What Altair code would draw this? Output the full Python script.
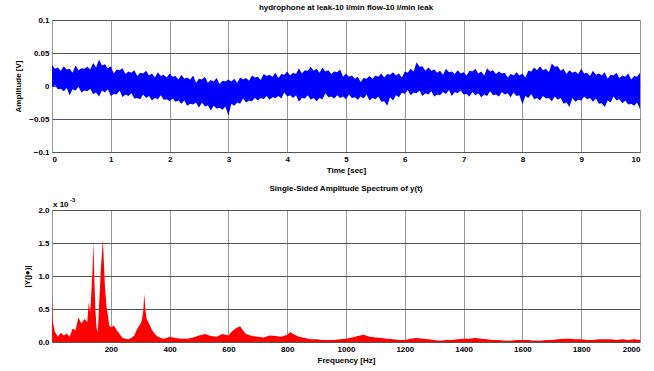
import altair as alt
import pandas as pd

# ---- top panel: time signal envelope (V) ----
# values at whole 0.1 s steps
upper_v = [
    0.032, 0.028, 0.030, 0.026, 0.031, 0.027, 0.029, 0.035, 0.040, 0.033,
    0.030, 0.025, 0.027, 0.022, 0.024, 0.020, 0.023, 0.019, 0.021, 0.017,
    0.019, 0.015, 0.017, 0.013, 0.016, 0.011, 0.014, 0.009, 0.012, 0.008,
    0.010, 0.011, 0.013, 0.012, 0.016, 0.014, 0.018, 0.017, 0.020, 0.018,
    0.022, 0.020, 0.027, 0.024, 0.029, 0.026, 0.028, 0.024, 0.022, 0.025,
    0.019, 0.016, 0.014, 0.012, 0.015, 0.016, 0.019, 0.018, 0.021, 0.019,
    0.022, 0.026, 0.036, 0.030, 0.028, 0.025, 0.023, 0.026, 0.022, 0.024,
    0.021, 0.023, 0.026, 0.022, 0.027, 0.024, 0.022, 0.020, 0.018, 0.021,
    0.019, 0.023, 0.028, 0.030, 0.026, 0.034, 0.030, 0.026, 0.024, 0.022,
    0.026, 0.020, 0.023, 0.019, 0.021, 0.017, 0.020, 0.016, 0.019, 0.015,
    0.020,
]
lower_v = [
    -0.002, -0.005, -0.008, -0.014, -0.007, -0.010, -0.008, -0.012, -0.016, -0.010,
    -0.015, -0.013, -0.017, -0.015, -0.019, -0.020, -0.018, -0.022, -0.020, -0.021,
    -0.023, -0.024, -0.027, -0.030, -0.028, -0.033, -0.031, -0.037, -0.034, -0.036,
    -0.045, -0.030, -0.027, -0.025, -0.023, -0.022, -0.020, -0.021, -0.018, -0.019,
    -0.016, -0.018, -0.024, -0.019, -0.021, -0.023, -0.020, -0.017, -0.019, -0.018,
    -0.020, -0.018, -0.021, -0.019, -0.022, -0.020, -0.024, -0.030, -0.022, -0.017,
    -0.012, -0.014, -0.011, -0.015, -0.013, -0.016, -0.014, -0.012, -0.015, -0.011,
    -0.013, -0.016, -0.014, -0.017, -0.015, -0.014, -0.016, -0.013, -0.017, -0.015,
    -0.028, -0.018, -0.020, -0.022, -0.019, -0.023, -0.021, -0.027, -0.032, -0.024,
    -0.022, -0.020, -0.024, -0.027, -0.032, -0.025, -0.022, -0.026, -0.028, -0.030,
    -0.035,
]
# values at the half steps (0.05, 0.15, ... s): the notches between spikes
upper_half_v = [
    0.026, 0.023, 0.025, 0.020, 0.024, 0.026, 0.025, 0.028, 0.031, 0.027,
    0.019, 0.024, 0.018, 0.020, 0.015, 0.019, 0.016, 0.013, 0.015, 0.013,
    0.014, 0.010, 0.011, 0.010, 0.005, 0.010, 0.005, 0.007, 0.003, 0.007,
    0.007, 0.005, 0.010, 0.008, 0.013, 0.009, 0.015, 0.014, 0.012, 0.017,
    0.016, 0.018, 0.019, 0.023, 0.023, 0.020, 0.022, 0.018, 0.021, 0.014,
    0.014, 0.011, 0.006, 0.011, 0.011, 0.014, 0.013, 0.017, 0.016, 0.013,
    0.020, 0.022, 0.029, 0.023, 0.023, 0.020, 0.017, 0.021, 0.018, 0.019,
    0.016, 0.022, 0.019, 0.016, 0.022, 0.018, 0.019, 0.013, 0.016, 0.016,
    0.013, 0.022, 0.024, 0.024, 0.021, 0.029, 0.023, 0.018, 0.020, 0.018,
    0.019, 0.015, 0.017, 0.016, 0.011, 0.016, 0.012, 0.014, 0.010, 0.014,
]
lower_half_v = [
    0.001, -0.004, -0.003, -0.005, -0.001, -0.007, -0.004, -0.010, -0.007, -0.005,
    -0.012, -0.007, -0.013, -0.011, -0.018, -0.013, -0.015, -0.018, -0.014, -0.020,
    -0.019, -0.022, -0.022, -0.027, -0.025, -0.025, -0.029, -0.030, -0.033, -0.031,
    -0.027, -0.025, -0.019, -0.022, -0.018, -0.018, -0.015, -0.017, -0.015, -0.010,
    -0.014, -0.014, -0.018, -0.014, -0.018, -0.018, -0.011, -0.016, -0.014, -0.016,
    -0.013, -0.017, -0.016, -0.013, -0.018, -0.016, -0.023, -0.017, -0.014, -0.010,
    -0.006, -0.010, -0.007, -0.011, -0.008, -0.013, -0.009, -0.006, -0.009, -0.007,
    -0.012, -0.009, -0.011, -0.013, -0.008, -0.013, -0.009, -0.011, -0.010, -0.014,
    -0.015, -0.012, -0.018, -0.015, -0.018, -0.016, -0.018, -0.025, -0.018, -0.021,
    -0.016, -0.018, -0.019, -0.026, -0.022, -0.016, -0.020, -0.022, -0.027, -0.025,
]

# ---- bottom panel: amplitude spectrum (units of 1e-3) ----
freq_hz = [
    0, 3, 10, 20, 30, 40, 50, 60, 70, 80, 90, 100, 110, 120, 125, 130, 135, 138,
    141, 144, 148, 152, 156, 160, 163, 166, 170, 173, 176, 180, 185, 190, 195,
    200, 210, 220, 230, 240, 250, 260, 270, 280, 290, 300, 305, 310, 314, 318,
    322, 330, 340, 350, 360, 370, 380, 390, 400, 420, 440, 460, 480, 500, 520,
    540, 560, 580, 600, 610, 620, 630, 640, 650, 660, 680, 700, 720, 740, 760,
    780, 800, 810, 820, 840, 860, 880, 900, 920, 940, 960, 980, 1000, 1020,
    1040, 1060, 1080, 1100, 1120, 1140, 1160, 1180, 1200, 1220, 1240, 1260,
    1280, 1300, 1320, 1340, 1360, 1380, 1400, 1420, 1440, 1460, 1480, 1500,
    1520, 1540, 1560, 1580, 1600, 1620, 1640, 1660, 1680, 1700, 1720, 1740,
    1760, 1780, 1800, 1820, 1840, 1860, 1880, 1900, 1920, 1940, 1960, 1980, 2000,
]
amp_e3 = [
    0.72, 0.30, 0.15, 0.08, 0.14, 0.10, 0.13, 0.08, 0.20, 0.18, 0.37, 0.28, 0.35,
    0.30, 0.60, 0.45, 0.85, 1.10, 1.53, 0.95, 0.45, 0.20, 0.15, 0.55, 0.80, 1.10,
    1.35, 1.56, 1.25, 0.85, 0.55, 0.40, 0.25, 0.22, 0.25, 0.18, 0.12, 0.06, 0.05,
    0.04, 0.06, 0.10, 0.20, 0.27, 0.32, 0.45, 0.72, 0.48, 0.35, 0.28, 0.18, 0.12,
    0.08, 0.06, 0.05, 0.06, 0.08, 0.06, 0.05, 0.05, 0.07, 0.10, 0.12, 0.09, 0.08,
    0.12, 0.10, 0.15, 0.19, 0.22, 0.24, 0.17, 0.12, 0.09, 0.08, 0.07, 0.10, 0.09,
    0.08, 0.11, 0.15, 0.12, 0.08, 0.06, 0.04, 0.04, 0.03, 0.03, 0.03, 0.04, 0.05,
    0.07, 0.09, 0.11, 0.08, 0.07, 0.06, 0.05, 0.04, 0.03, 0.03, 0.05, 0.06, 0.05,
    0.04, 0.03, 0.02, 0.03, 0.03, 0.04, 0.05, 0.05, 0.06, 0.05, 0.04, 0.03, 0.03,
    0.02, 0.02, 0.03, 0.03, 0.03, 0.02, 0.02, 0.03, 0.03, 0.04, 0.05, 0.05, 0.04,
    0.04, 0.03, 0.03, 0.04, 0.04, 0.04, 0.03, 0.04, 0.03, 0.04, 0.03,
]

# build the 0.05 s grid by interleaving the whole and half steps
t_col, hi_col, lo_col = [], [], []
for i in range(len(upper_v)):
    t_col.append(round(i * 0.1, 2)); hi_col.append(upper_v[i]); lo_col.append(lower_v[i])
    if i < len(upper_half_v):
        t_col.append(round(i * 0.1 + 0.05, 2)); hi_col.append(upper_half_v[i]); lo_col.append(lower_half_v[i])

df_t = pd.DataFrame({"t": t_col, "hi": hi_col, "lo": lo_col})
df_f = pd.DataFrame({"f": freq_hz, "a": amp_e3, "z": [0.0] * len(freq_hz)})
df_one = pd.DataFrame({"k": [0]})

FONT = "Liberation Sans"
W, H = 588, 132

def ax(**kw):
    base = dict(
        labelFont=FONT, labelFontSize=8, labelFontWeight="bold", labelColor="black",
        titleFont=FONT, titleFontSize=8, titleFontWeight="bold", titleColor="black",
        ticks=False, domain=False, gridWidth=1, labelPadding=3,
    )
    base.update(kw)
    return alt.Axis(**base)

top = alt.Chart(df_t).mark_area(color="#0000ff").encode(
    x=alt.X("t:Q", scale=alt.Scale(domain=[0, 10], nice=False),
            axis=ax(values=list(range(11)), title="Time [sec]", format="d",
                    gridColor="#999999", titlePadding=3)),
    y=alt.Y("hi:Q", scale=alt.Scale(domain=[-0.1, 0.1], nice=False),
            axis=ax(values=[-0.1, -0.05, 0, 0.05, 0.1], title="Amplitude [V]",
                    labelExpr="format(datum.value, '')", gridColor="#555555",
                    titlePadding=6)),
    y2="lo:Q",
).properties(
    width=W, height=H,
    title=alt.TitleParams("hydrophone at leak-10 l/min flow-10 l/min leak",
                          font=FONT, fontSize=8, fontWeight="bold", color="black", offset=4),
)

spec = alt.Chart(df_f).mark_area(color="#ff0000").encode(
    x=alt.X("f:Q", scale=alt.Scale(domain=[0, 2000], nice=False),
            axis=ax(values=list(range(0, 2001, 200)), title="Frequency [Hz]",
                    labelExpr="datum.value == 0 ? '' : datum.label", format="d",
                    gridColor="#999999", titlePadding=3)),
    y=alt.Y("a:Q", scale=alt.Scale(domain=[0, 2], nice=False),
            axis=ax(values=[0, 0.5, 1, 1.5, 2], title="|Y(j●)|", gridColor="#555555",
                    titlePadding=6)),
    y2="z:Q",
)

mult = alt.Chart(df_one).mark_text(font=FONT, fontSize=8, fontWeight="bold", align="left",
                                   baseline="alphabetic", color="black").encode(
    x=alt.value(1), y=alt.value(-3), text=alt.value("x 10"))
mult_exp = alt.Chart(df_one).mark_text(font=FONT, fontSize=6, fontWeight="bold", align="left",
                                       baseline="alphabetic", color="black").encode(
    x=alt.value(18), y=alt.value(-8), text=alt.value("-3"))

bottom = alt.layer(spec, mult, mult_exp).properties(
    width=W, height=H,
    title=alt.TitleParams("Single-Sided Amplitude Spectrum of y(t)",
                          font=FONT, fontSize=8, fontWeight="bold", color="black", offset=4),
)

chart = alt.vconcat(top, bottom, spacing=58, bounds="flush").properties(
    padding={"left": 14, "top": 3, "right": 5, "bottom": 5}
).configure_view(stroke="black", strokeWidth=1).configure(background="white")

chart.save("out.html", embed_options={"renderer": "svg", "actions": False})
